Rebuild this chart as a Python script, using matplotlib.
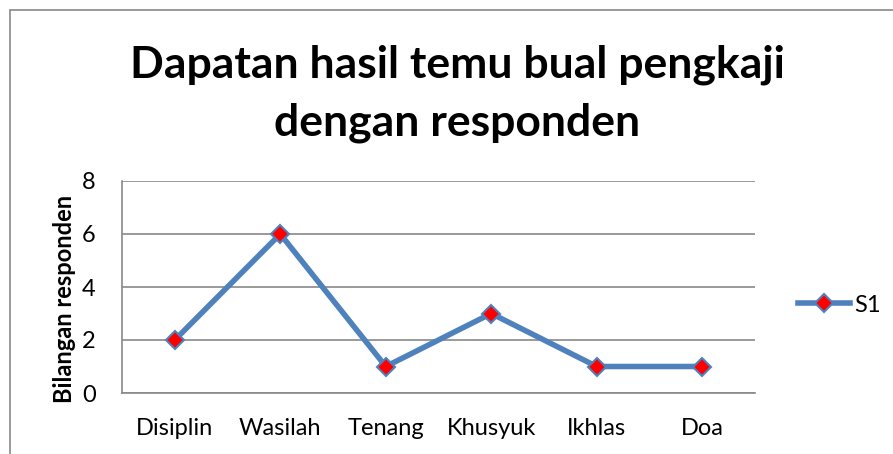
import matplotlib.pyplot as plt
from matplotlib.patches import Rectangle

categories = ['Disiplin', 'Wasilah', 'Tenang', 'Khusyuk', 'Ikhlas', 'Doa']
s1 = [2, 6, 1, 3, 1, 1]
yticks = [0, 2, 4, 6, 8]

plt.rcParams['font.family'] = ['Lato', 'DejaVu Sans']

fig = plt.figure(figsize=(8.93, 4.54), dpi=100)
W, H = 893, 454

# chart border like the office chart frame
fig.patches.append(Rectangle((10 / W, -0.1), 1.0, 1.1 - 10 / H, transform=fig.transFigure,
                             fill=False, edgecolor='#898989', linewidth=1.2))

ax = fig.add_axes([122 / W, 1 - 393 / H, (755 - 122) / W, (393 - 181) / H])
ax.plot(range(len(categories)), s1, color='#4F81BD', linewidth=4, marker='D',
        markersize=9, markerfacecolor='red', markeredgecolor='#4F81BD',
        markeredgewidth=1.5, label='S1', zorder=3)

ax.set_xlim(-0.5, len(categories) - 0.5)
ax.set_ylim(0, 8)
ax.set_yticks(yticks)
ax.set_xticks(range(len(categories)))
ax.set_xticklabels(categories)
ax.tick_params(axis='both', length=0, labelsize=17)
ax.tick_params(axis='x', pad=18)
ax.tick_params(axis='y', pad=19)
ax.grid(axis='y', color='#898989', linewidth=1.2)
ax.set_axisbelow(True)
for side in ['top', 'right']:
    ax.spines[side].set_visible(False)
for side in ['left', 'bottom']:
    ax.spines[side].set_color('#898989')
    ax.spines[side].set_linewidth(1.2)

fig.text(64 / W, 1 - 299 / H, 'Bilangan responden', rotation=90, ha='center',
         va='center', fontsize=17, fontweight='bold')

fig.text(457 / W, 1 - 65 / H, 'Dapatan hasil temu bual pengkaji', ha='center',
         va='center', fontsize=32, fontweight='bold')
fig.text(457 / W, 1 - 123 / H, 'dengan responden', ha='center', va='center',
         fontsize=32, fontweight='bold')

ax.legend(loc='center left', bbox_to_anchor=(1.035, 0.415), frameon=False,
          fontsize=17, handlelength=2.2, handletextpad=0.15)

fig.savefig('out.png', dpi=100)
